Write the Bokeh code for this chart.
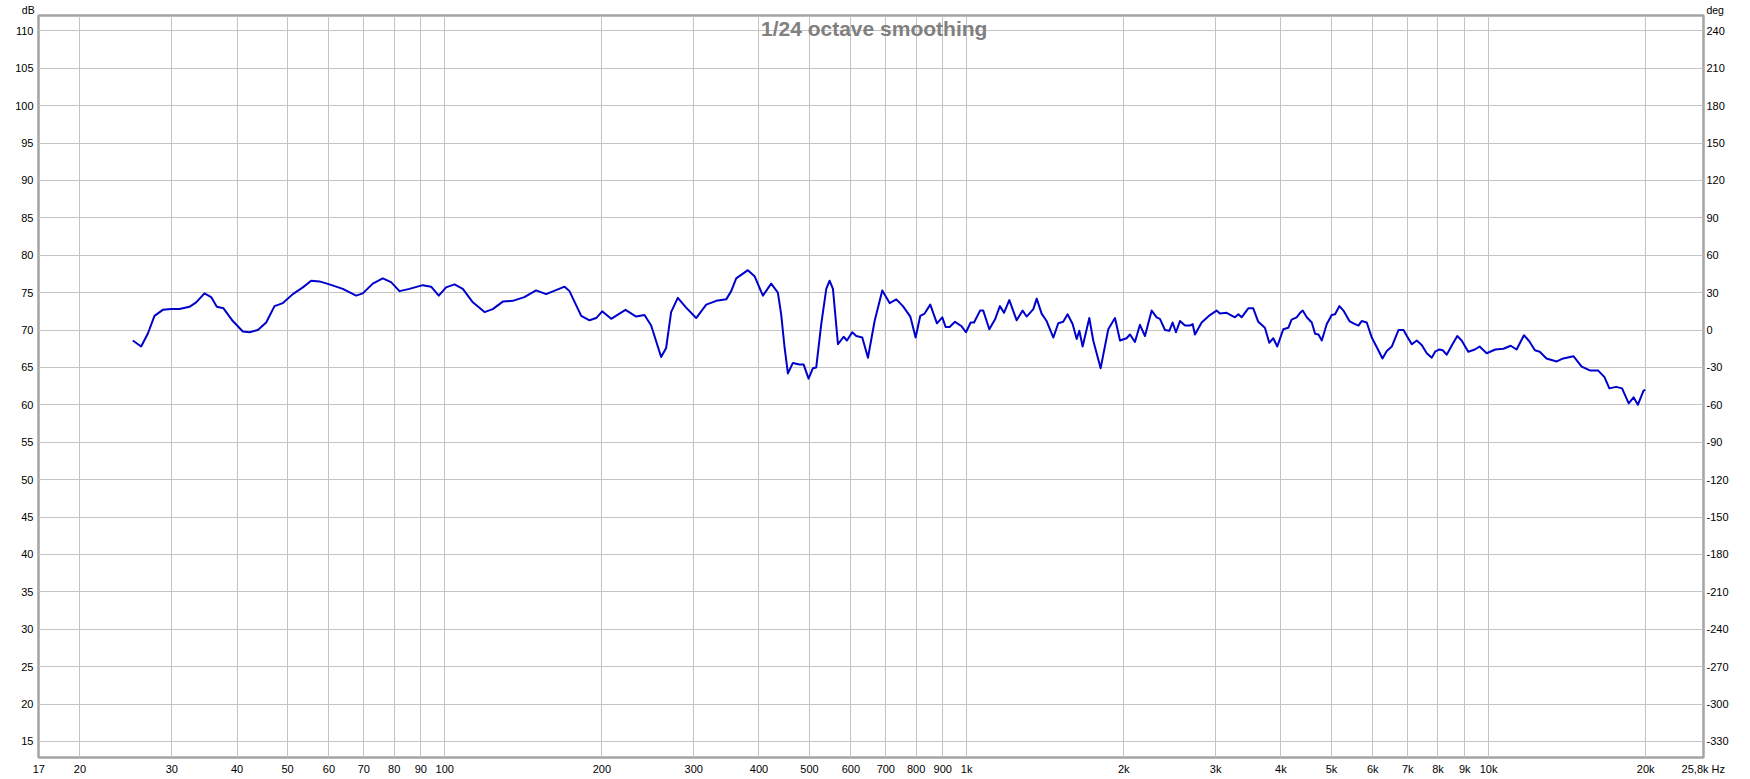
import math
from bokeh.plotting import figure
from bokeh.models import Range1d, LinearAxis, FixedTicker, Label
from bokeh.embed import file_html
from bokeh.resources import INLINE

# ---------------- data ----------------
freq_hz = [
    25.26, 26.2, 26.98, 27.79, 28.83, 29.91, 31.03, 32.43, 33.40, 34.65,
    35.68, 36.59, 37.68, 39.26, 41.04, 42.27, 43.85, 45.49, 47.19, 48.96,
    51.17, 53.48, 55.48, 57.54, 60.13, 63.78, 67.65, 69.66, 72.80, 76.08,
    78.93, 81.9, 85.59, 90.77, 94.17, 97.4, 100.6, 104.4, 108.3, 113.2,
    119.2, 123.6, 129.2, 135.0, 142.1, 149.6, 156.4, 169.7, 173.4, 182.6,
    189.4, 195.1, 200.3, 208.4, 222.0, 232.7, 241.4, 248.6, 259.8, 265.6,
    271.5, 279.6, 290.1, 303.2, 317.0, 331.3, 346.2, 353.9, 361.8, 380.9,
    392.3, 407.0, 422.2, 434.8, 441.2, 447.8, 454.5, 464.6, 478.5, 487.0,
    497.9, 507.5, 515.0, 526.5, 538.3, 546.3, 554.4, 566.8, 581.1, 589.7,
    603.7, 614.5, 631.0, 647.0, 666.3, 689.2, 711.9, 733.1, 755.0, 779.9,
    798.4, 815.0, 830.7, 851.7, 877.2, 898.1, 911.4, 927.6, 950, 978,
    997, 1018, 1033, 1061, 1076, 1105, 1133, 1158, 1179, 1207,
    1247, 1280, 1303, 1342, 1362, 1392, 1423, 1466, 1498, 1531,
    1561, 1596, 1625, 1644, 1668, 1718, 1748, 1806, 1868, 1924,
    1967, 2025, 2056, 2101, 2148, 2196, 2262, 2312, 2346, 2399,
    2445, 2481, 2518, 2563, 2620, 2678, 2710, 2738, 2820, 2925,
    3012, 3057, 3148, 3266, 3315, 3364, 3464, 3541, 3620, 3728,
    3800, 3868, 3937, 4043, 4133, 4194, 4288, 4354, 4405, 4484,
    4584, 4652, 4721, 4791, 4898, 5006, 5080, 5179, 5271, 5413,
    5509, 5631, 5713, 5842, 5973, 6107, 6262, 6382, 6527, 6720,
    6872, 6973, 7127, 7285, 7446, 7614, 7783, 7898, 8050, 8168,
    8312, 8496, 8711, 8880, 9143, 9416, 9610, 9915, 10300, 10680,
    11025, 11315, 11690, 11968, 12268, 12534, 12910, 13507, 13906, 14539,
    15079, 15631, 16203, 16676, 17039, 17557, 18018, 18558, 18959, 19318,
    19811, 19965,
]
spl_db = [
    68.6, 67.8, 69.5, 71.9, 72.7, 72.8, 72.8, 73.1, 73.7, 74.9,
    74.4, 73.1, 72.9, 71.2, 69.8, 69.7, 70.0, 71.0, 73.2, 73.6,
    74.8, 75.7, 76.6, 76.5, 76.1, 75.5, 74.6, 74.9, 76.2, 76.9,
    76.4, 75.2, 75.5, 76.0, 75.8, 74.6, 75.7, 76.1, 75.5, 73.7,
    72.4, 72.8, 73.8, 73.9, 74.4, 75.3, 74.8, 75.8, 75.2, 71.9,
    71.3, 71.6, 72.5, 71.5, 72.7, 71.8, 72.0, 70.6, 66.4, 67.6,
    72.4, 74.3, 73.0, 71.6, 73.4, 73.9, 74.1, 75.2, 76.9, 78.0,
    77.2, 74.6, 76.2, 75.0, 72.1, 67.7, 64.2, 65.6, 65.4, 65.4,
    63.5, 64.9, 65.0, 70.8, 75.5, 76.6, 75.5, 68.1, 69.1, 68.6,
    69.7, 69.2, 69.0, 66.3, 71.2, 75.3, 73.6, 74.1, 73.2, 71.8,
    69.0, 71.9, 72.2, 73.4, 70.9, 71.7, 70.4, 70.4, 71.1, 70.5,
    69.7, 71.0, 71.0, 72.6, 72.6, 70.1, 71.4, 73.2, 72.3, 74.0,
    71.3, 72.6, 71.8, 72.8, 74.2, 72.2, 71.2, 69.0, 70.9, 71.1,
    72.1, 70.8, 68.8, 69.9, 67.8, 71.6, 68.6, 64.9, 70.1, 71.6,
    68.6, 68.9, 69.4, 68.4, 70.7, 69.2, 72.6, 71.7, 71.5, 70.0,
    69.9, 71.0, 69.7, 71.2, 70.6, 70.6, 70.8, 69.4, 71.0, 72.0,
    72.6, 72.2, 72.3, 71.7, 72.1, 71.7, 72.9, 72.9, 71.1, 70.3,
    68.3, 68.9, 67.8, 70.1, 70.3, 71.4, 71.7, 72.3, 72.6, 71.7,
    71.0, 69.5, 69.4, 68.6, 70.8, 72.0, 72.1, 73.2, 72.6, 71.2,
    70.9, 70.6, 71.2, 71.0, 69.0, 67.7, 66.2, 67.2, 67.8, 70.0,
    70.0, 69.2, 68.1, 68.6, 68.0, 66.9, 66.3, 67.1, 67.4, 67.3,
    66.7, 67.9, 69.2, 68.6, 67.1, 67.4, 67.8, 66.9, 67.4, 67.5,
    67.9, 67.4, 69.3, 68.5, 67.3, 67.1, 66.2, 65.8, 66.2, 66.5,
    65.1, 64.6, 64.6, 63.7, 62.2, 62.4, 62.2, 60.2, 61.0, 60.0,
    61.9, 62.0,
]

x_tick_values = [16.68, 20, 30, 40, 50, 60, 70, 80, 90, 100, 200, 300, 400,
                 500, 600, 700, 800, 900, 1000, 2000, 3000, 4000, 5000, 6000,
                 7000, 8000, 9000, 10000, 20000, 25790]
x_tick_labels = ["17", "20", "30", "40", "50", "60", "70", "80", "90", "100",
                 "200", "300", "400", "500", "600", "700", "800", "900", "1k",
                 "2k", "3k", "4k", "5k", "6k", "7k", "8k", "9k", "10k", "20k",
                 "25,8k Hz"]
grid_freqs = [20, 30, 40, 50, 60, 70, 80, 90, 100, 200, 300, 400, 500, 600,
              700, 800, 900, 1000, 2000, 3000, 4000, 5000, 6000, 7000, 8000,
              9000, 10000, 20000]
db_ticks = list(range(15, 115, 5))
deg_ticks = list(range(-330, 270, 30))
title_text = "1/24 octave smoothing"
unit_left = "dB"
unit_right = "deg"

# ---------------- figure ----------------
X0, X1 = 16.66, 25810
Y0, Y1 = 12.85, 112.05
FONT = "Liberation Sans"
GRID = "#c4c4c4"
NB = "\u00a0"

p = figure(width=1750, height=779, x_axis_type="log",
           x_range=Range1d(X0, X1), y_range=Range1d(Y0, Y1),
           output_backend="svg", toolbar_location=None, title=None,
           min_border_left=38, min_border_right=47,
           min_border_top=14, min_border_bottom=22)
p.background_fill_color = "white"
p.border_fill_color = "white"
p.outline_line_color = "#a4a4a4"
p.outline_line_width = 2.5

# grids
p.xgrid[0].ticker = FixedTicker(ticks=grid_freqs)
p.xgrid.grid_line_color = GRID
p.xgrid.grid_line_width = 1
p.ygrid[0].ticker = FixedTicker(ticks=db_ticks)
p.ygrid.grid_line_color = GRID
p.ygrid.grid_line_width = 1

# x axis
xa = p.xaxis[0]
xa.ticker = FixedTicker(ticks=x_tick_values)
xa.major_label_overrides = dict(zip(x_tick_values, x_tick_labels))
# left y axis
ya = p.yaxis[0]
ya.ticker = FixedTicker(ticks=db_ticks)
ya.major_label_overrides = {t: str(t) for t in db_ticks}

# right y axis (phase, degrees)
p.extra_y_ranges = {"deg": Range1d(240 + (Y0 - 110) * 6, 240 + (Y1 - 110) * 6)}
ra = LinearAxis(y_range_name="deg", ticker=FixedTicker(ticks=deg_ticks))
ra.major_label_overrides = {t: str(t) for t in deg_ticks}
p.add_layout(ra, "right")

# unit captions above the two vertical axes (an axis along the top edge)
p.extra_x_ranges = {"units": Range1d(1, 10)}
ua = LinearAxis(x_range_name="units", ticker=FixedTicker(ticks=[1, 10]))
ua.major_label_overrides = {1: unit_left + NB * 7, 10: NB * 8 + unit_right}
p.add_layout(ua, "above")

for ax, standoff, fsize in ((xa, 5, "11px"), (ya, 5, "11px"),
                            (ra, 3, "11px"), (ua, 0, "10.5px")):
    ax.axis_line_color = None
    ax.major_tick_line_color = None
    ax.minor_tick_line_color = None
    ax.major_tick_out = 0
    ax.major_tick_in = 0
    ax.minor_tick_out = 0
    ax.major_label_standoff = standoff
    ax.major_label_text_font = FONT
    ax.major_label_text_font_size = fsize
    ax.major_label_text_color = "black"

# curve
p.line(freq_hz, spl_db, line_color="#0000cc", line_width=2, line_join="round")

# title inside the frame
p.add_layout(Label(x=665, y=110.3, text=title_text, text_font=FONT,
                   text_font_style="bold", text_font_size="21px",
                   text_color="#808080", text_align="center",
                   text_baseline="alphabetic"))

open("out.html", "w").write(file_html(p, INLINE))
